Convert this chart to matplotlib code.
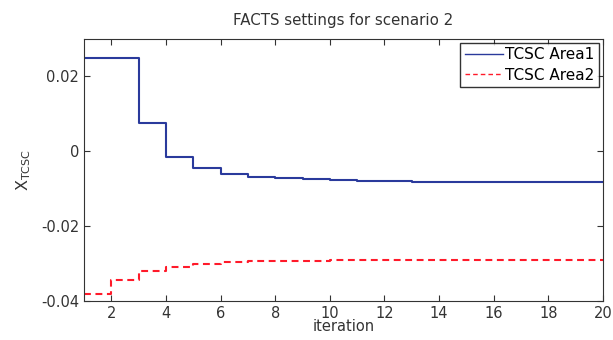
import matplotlib
matplotlib.use("Agg")
import matplotlib.pyplot as plt

iterations = list(range(1, 21))
area1 = [0.0250, 0.0250, 0.0075, -0.0015, -0.0045, -0.0060, -0.0068, -0.0072,
         -0.0075, -0.0077, -0.0079, -0.0080, -0.0081, -0.0081, -0.0082, -0.0082,
         -0.0082, -0.0082, -0.0082, -0.0082]
area2 = [-0.0380, -0.0344, -0.0320, -0.0309, -0.0300, -0.0296, -0.0294, -0.0293,
         -0.0292, -0.0291, -0.0291, -0.0290, -0.0290, -0.0290, -0.0290, -0.0290,
         -0.0290, -0.0290, -0.0290, -0.0290]
xticks = list(range(2, 21, 2))
yticks = [-0.04, -0.02, 0, 0.02]
ytick_labels = ["-0.04", "-0.02", "0", "0.02"]

plt.rcParams['font.family'] = ['DejaVu Sans']
fig = plt.figure(figsize=(6.13, 3.4), dpi=100)
ax = fig.add_axes([84/613, 1-301/340, (603-84)/613, (301-39)/340])

ax.plot(iterations, area1, drawstyle='steps-post', color='#2a3a9c', lw=1.5, label='TCSC Area1')
ax.plot(iterations, area2, drawstyle='steps-post', color='#ff1a2a', lw=1.5, ls=(0, (3.3, 2.2)), label='TCSC Area2')

ax.set_xlim(1, 20)
ax.set_ylim(-0.04, 0.03)
ax.set_xticks(xticks)
ax.set_yticks(yticks)
ax.set_yticklabels(ytick_labels)
ax.tick_params(direction='in', top=True, right=True, labelsize=10.5, length=4, colors='#333333', labelcolor='#333333')
for s in ax.spines.values():
    s.set_color('#333333')
ax.set_title('FACTS settings for scenario 2', fontsize=10.8, color='#333333', pad=10)
ax.set_xlabel('iteration', fontsize=10.5, color='#333333', labelpad=-1)
ax.set_ylabel(r'X$_{\mathregular{TCSC}}$', fontsize=11.5, color='#333333', labelpad=6)
leg = ax.legend(loc='upper right', fontsize=11, frameon=True, fancybox=False,
                edgecolor='black', handlelength=2.5, handletextpad=0.15,
                borderaxespad=0.25, borderpad=0.3, labelspacing=0.35)
leg.get_frame().set_linewidth(1.0)
for line in leg.get_lines():
    line.set_linewidth(1.0)
fig.savefig('out.png', dpi=100)
